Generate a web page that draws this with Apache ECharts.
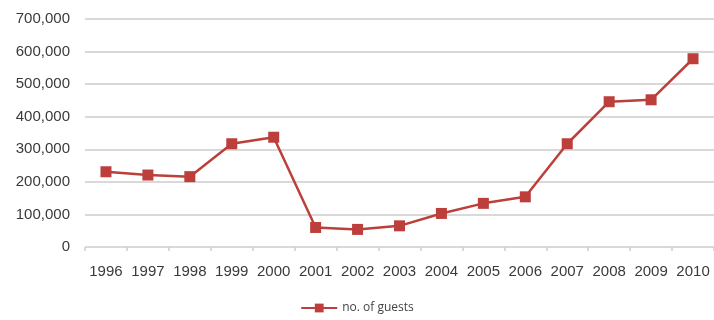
<!DOCTYPE html>
<html>
<head>
<meta charset="utf-8">
<script src="https://cdn.jsdelivr.net/npm/echarts@6/dist/echarts.min.js"></script>
<style>
  html, body { margin: 0; padding: 0; background: #fff; }
  #chart { width: 714px; height: 320px; }
</style>
</head>
<body>
<div id="chart"></div>
<script>
const years = ['1996', '1997', '1998', '1999', '2000', '2001', '2002', '2003',
  '2004', '2005', '2006', '2007', '2008', '2009', '2010'];
const guests = [231000, 221000, 216000, 317000, 337000, 60000, 54000, 65000,
  103000, 134000, 154000, 317000, 446000, 452000, 578000];
const seriesName = 'no. of guests';

const chart = echarts.init(document.getElementById('chart'));

const lineColor = '#bd3f3b';
const gridColor = '#cdcdcd';
const textColor = '#3a3a3a';

chart.setOption({
  animation: false,
  grid: {
    left: 85,
    top: 19,
    width: 630,
    height: 228
  },
  legend: {
    bottom: 1,
    left: 'center',
    itemWidth: 36,
    itemHeight: 11,
    itemGap: 4,
    textStyle: { fontFamily: 'Open Sans', fontSize: 12, color: '#444' },
    data: [seriesName]
  },
  xAxis: {
    type: 'category',
    data: years,
    boundaryGap: true,
    axisLine: { show: false },
    axisTick: {
      show: true,
      interval: 0,
      length: 4,
      lineStyle: { color: gridColor, width: 1.5 }
    },
    axisLabel: {
      interval: 0,
      color: textColor,
      fontFamily: 'Liberation Sans',
      fontSize: 15,
      margin: 17
    }
  },
  yAxis: {
    type: 'value',
    min: 0,
    max: 700000,
    interval: 100000,
    axisLine: { show: false },
    axisTick: { show: false },
    axisLabel: {
      color: textColor,
      fontFamily: 'Liberation Sans',
      fontSize: 15,
      margin: 15,
      formatter: (v) => v.toLocaleString('en-US')
    },
    splitLine: { lineStyle: { color: gridColor, width: 1.5 } }
  },
  series: [{
    name: seriesName,
    type: 'line',
    data: guests,
    symbol: 'rect',
    symbolSize: 11,
    itemStyle: { color: lineColor },
    lineStyle: { color: lineColor, width: 2.5 }
  }]
});
</script>
</body>
</html>
